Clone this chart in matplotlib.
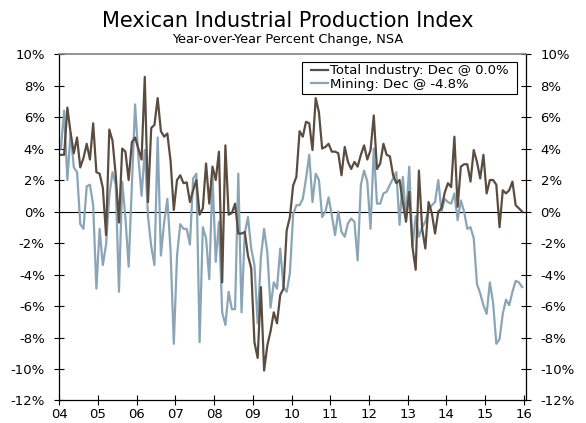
import matplotlib
matplotlib.use("Agg")
import matplotlib.pyplot as plt
from matplotlib.patches import Rectangle
import numpy as np

# ============================================================================
# Data: monthly YoY % change, Jan 2004 - Dec 2015
# ============================================================================

total_industry = [
    3.6, 3.6, 6.6, 5.0, 3.7, 4.7, 2.8, 3.4, 4.3, 3.3, 5.6, 2.5,          # 2004
    2.4, 1.5, -1.5, 5.2, 4.5, 2.3, -0.7, 4.0, 3.8, 2.0, 4.4, 4.7,        # 2005
    4.0, 3.3, 8.55, 0.6, 5.3, 5.5, 7.2, 5.1, 4.75, 4.95, 3.2, 0.1,       # 2006
    2.0, 2.3, 1.8, 1.85, 0.6, 1.35, 2.0, -0.2, 0.2, 3.05, 0.5, 2.85,     # 2007
    2.0, 3.8, -4.5, 4.2, -0.2, -0.1, 0.5, -1.4, -1.4, -1.3, -2.8, -3.6,  # 2008
    -8.3, -9.3, -4.8, -10.1, -8.5, -7.6, -6.4, -7.1, -5.3, -4.9, -1.2, -0.35,  # 2009
    1.65, 2.2, 5.1, 4.75, 5.7, 5.6, 3.9, 7.2, 6.3, 4.0, 4.1, 4.3,        # 2010
    3.8, 3.8, 3.7, 2.3, 4.1, 3.15, 2.7, 3.15, 2.85, 3.6, 4.2, 3.3,       # 2011
    3.9, 6.1, 2.7, 3.05, 4.3, 3.6, 3.5, 2.3, 1.8, 2.0, 0.6, -0.65,       # 2012
    1.25, -2.25, -3.7, 2.6, -1.1, -2.35, 0.6, -0.1, -1.4, 0.0, 0.2, 1.2, # 2013
    1.8, 1.55, 4.75, 0.3, 2.85, 3.0, 3.0, 1.9, 3.9, 3.15, 2.1, 3.6,      # 2014
    1.15, 2.0, 2.0, 1.7, -1.0, 1.35, 1.15, 1.35, 1.9, 0.4, 0.2, 0.0,     # 2015
]

mining = [
    4.0, 6.4, 2.0, 5.0, 2.8, 2.5, -0.8, -1.1, 1.6, 1.7, 0.4, -4.9,       # 2004
    -1.1, -3.4, -2.1, 1.0, 2.5, 1.7, -5.1, 1.9, -0.4, -3.5, 1.7, 6.8,    # 2005
    3.5, 1.0, 3.9, -0.3, -2.2, -3.4, 4.7, -2.8, -0.7, 0.8, -2.5, -8.4,   # 2006
    -2.8, -0.8, -1.1, -1.1, -2.1, 2.1, 2.4, -8.3, -1.0, -1.7, -4.3, 2.3, # 2007
    -3.2, -0.65, -6.4, -7.2, -5.1, -6.2, -6.2, 2.4, -6.4, -1.4, -0.35, -2.35,  # 2008
    -3.4, -7.1, -2.9, -1.1, -2.6, -6.1, -4.5, -4.9, -2.35, -4.8, -5.1, -3.9,   # 2009
    -0.2, 0.4, 0.4, 0.8, 2.1, 3.6, 0.6, 2.4, 2.0, -0.35, 0.0, 0.9,       # 2010
    -0.25, -1.5, 0.0, -1.3, -1.6, -0.75, -0.45, -0.65, -3.1, 1.7, 2.6, 1.9,    # 2011
    -1.1, 4.0, 0.5, 0.5, 1.15, 1.25, 1.7, 2.1, 2.5, -0.85, 2.2, -0.45,   # 2012
    2.85, -2.25, -0.3, -1.6, -1.0, -0.65, 0.1, 0.4, 0.6, 2.0, 0.0, 0.8,  # 2013
    0.6, 0.5, 1.15, -0.55, 0.7, 0.0, -1.1, -1.0, -1.7, -4.6, -5.2, -5.95,      # 2014
    -6.5, -4.5, -5.8, -8.4, -8.1, -6.5, -5.6, -5.95, -5.1, -4.4, -4.5, -4.8,   # 2015
]

year_labels = ["04", "05", "06", "07", "08", "09", "10", "11", "12", "13", "14", "15", "16"]
y_ticks = [10, 8, 6, 4, 2, 0, -2, -4, -6, -8, -10, -12]

# ============================================================================
# Style
# ============================================================================

STYLE = {
    "industry": "#5b4c40",
    "mining": "#8aa5b6",
    "text": "#000000",
    "top_spine": "#808080",
}

plt.rcParams["font.family"] = ["DejaVu Sans"]

fig = plt.figure(figsize=(5.86, 4.23), dpi=100)
ax = fig.add_axes([0.1012, 0.0532, 0.7964, 0.8191])

x = np.arange(len(total_industry)) + 0.5
ax.plot(x, total_industry, color=STYLE["industry"], linewidth=1.6,
        label="Total Industry: Dec @ 0.0%", zorder=3)
ax.plot(x, mining, color=STYLE["mining"], linewidth=1.6,
        label="Mining: Dec @ -4.8%", zorder=2)
ax.axhline(0, color="black", linewidth=0.8, zorder=1)

ax.set_xlim(0, 144.7)
ax.set_ylim(-12, 10)

ax.set_xticks(np.arange(len(year_labels)) * 12)
ax.set_xticklabels(year_labels)
ax.set_yticks(y_ticks)
ax.set_yticklabels([f"{v}%" for v in y_ticks])

ax.tick_params(axis="both", direction="inout", length=7, width=0.8,
               labelsize=9.5, colors="black")
ax.tick_params(axis="y", right=True, labelright=True, pad=7)
ax.tick_params(axis="x", pad=2)

for side in ["left", "right", "bottom"]:
    ax.spines[side].set_color("black")
    ax.spines[side].set_linewidth(0.9)
ax.spines["top"].set_color(STYLE["top_spine"])
ax.spines["top"].set_linewidth(1.2)

# legend without frame, box drawn by hand (wider side padding)
leg = ax.legend(loc="upper right", bbox_to_anchor=(0.968, 0.978), fontsize=9.5,
                handlelength=1.35, handletextpad=0.1, borderpad=0.2,
                labelspacing=0.05, frameon=False, borderaxespad=0.0)
fig.canvas.draw()
bb = leg.get_window_extent().transformed(fig.transFigure.inverted())
pad_x = 6 / 586
box = Rectangle((bb.x0 - pad_x, bb.y0), bb.width + 2 * pad_x, bb.height,
                transform=fig.transFigure, facecolor="white",
                edgecolor="black", linewidth=0.8, zorder=4)
ax.add_artist(box)
box.set_clip_on(False)
leg.set_zorder(5)

fig.text(0.4915, 0.937, "Mexican Industrial Production Index",
         ha="center", va="baseline", fontsize=15, color=STYLE["text"])
fig.text(0.4915, 0.8995, "Year-over-Year Percent Change, NSA",
         ha="center", va="baseline", fontsize=9.3, color=STYLE["text"])

fig.savefig("out.png", dpi=100)
plt.close(fig)
